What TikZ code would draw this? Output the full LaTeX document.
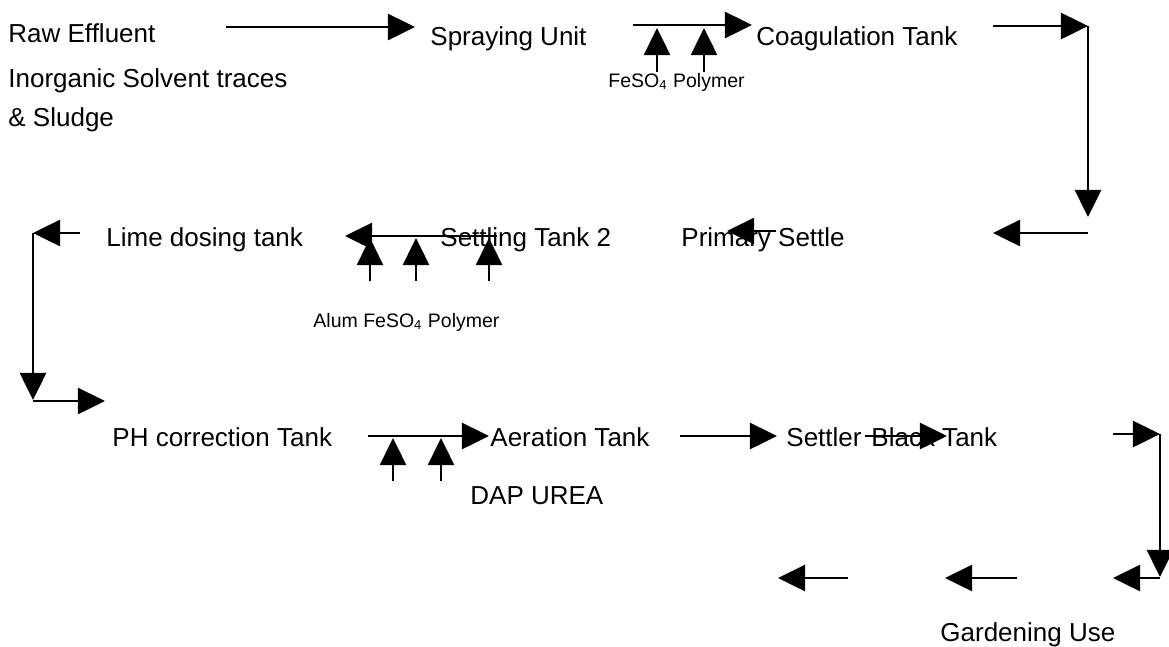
\documentclass[tikz,border=0pt]{standalone}
\usepackage{fontspec}
\setmainfont{Liberation Sans}
\usetikzlibrary{arrows.meta}

\begin{document}
\begin{tikzpicture}[
    x=0.4615pt, y=-0.4615pt,
    >={Triangle[length=12.5pt,width=12pt]},
    every node/.style={inner sep=0pt, anchor=base west},
    unit/.style={font=\fontsize{12}{14}\selectfont},
    dose/.style={font=\fontsize{9}{11}\selectfont},
    flow/.style={->, line width=1.3pt}
]
\useasboundingbox (0,0) rectangle (1169,646);

% stage names
\node[unit] (raw1) at (8,42) {Raw Effluent};
\node[unit] (raw2) at (8,87) {Inorganic Solvent traces};
\node[unit] (raw3) at (8,126) {\& Sludge};
\node[unit] (spray) at (430,45) {Spraying Unit};
\node[unit] (coag) at (756,45) {Coagulation Tank};
\node[unit] (prim) at (681,246) {Primary Settle};
\node[unit] (settle2) at (440,246) {Settling Tank 2};
\node[unit] (lime) at (106,246) {Lime dosing tank};
\node[unit] (ph) at (112,446) {PH correction Tank};
\node[unit] (aer) at (490,446) {Aeration Tank};
\node[unit] (settler) at (786,446) {Settler};
\node[unit] (black) at (871,446) {Black Tank};
\node[unit] (garden) at (940,641) {Gardening Use};

% chemicals
\node[dose] (chem1) at (608,87) {FeSO\textsubscript{4} Polymer};
\node[dose] (chem2) at (313,327) {Alum FeSO\textsubscript{4} Polymer};
\node[unit] (chem3) at (470,504) {DAP UREA};

% arrow ends
\coordinate (a1s) at (226,27);   \coordinate (a1e) at (415,27);
\coordinate (a2s) at (633,25);   \coordinate (a2e) at (752,25);
\coordinate (d1s) at (657,72);   \coordinate (d1e) at (657,28);
\coordinate (d2s) at (704,72);   \coordinate (d2e) at (704,28);
\coordinate (a3s) at (993,26);   \coordinate (a3c) at (1088,26);
\coordinate (a3e) at (1088,217);
\coordinate (a4s) at (1088,233); \coordinate (a4e) at (993,233);
\coordinate (a5s) at (776,231);  \coordinate (a5e) at (727,231);
\coordinate (a6s) at (497,236);  \coordinate (a6e) at (345,236);
\coordinate (d3s) at (370,281);  \coordinate (d3e) at (370,238);
\coordinate (d4s) at (416,281);  \coordinate (d4e) at (416,238);
\coordinate (d5s) at (489,281);  \coordinate (d5e) at (489,238);
\coordinate (a7s) at (80,233);   \coordinate (a7c) at (33,233);
\coordinate (a7e) at (33,400);
\coordinate (a8s) at (33,401);   \coordinate (a8e) at (105,401);
\coordinate (a9s) at (368,436);  \coordinate (a9e) at (489,436);
\coordinate (d6s) at (393,481);  \coordinate (d6e) at (393,438);
\coordinate (d7s) at (441,481);  \coordinate (d7e) at (441,438);
\coordinate (a10s) at (680,436); \coordinate (a10e) at (777,436);
\coordinate (a11s) at (865,436); \coordinate (a11e) at (947,436);
\coordinate (a12s) at (1113,434); \coordinate (a12c) at (1160,434);
\coordinate (a12e) at (1160,577);
\coordinate (a13s) at (1160,578); \coordinate (a13e) at (1113,578);
\coordinate (a14s) at (1017,578); \coordinate (a14e) at (945,578);
\coordinate (a15s) at (848,578);  \coordinate (a15e) at (778,578);

% flow arrows
\draw[flow] (a1s) -- (a1e);
\draw[flow] (a2s) -- (a2e);
\draw[flow] (d1s) -- (d1e);
\draw[flow] (d2s) -- (d2e);
\draw[flow] (a3s) -- (a3c);
\draw[flow] (a3c) -- (a3e);
\draw[flow] (a4s) -- (a4e);
\draw[flow] (a5s) -- (a5e);
\draw[flow] (a6s) -- (a6e);
\draw[flow] (d3s) -- (d3e);
\draw[flow] (d4s) -- (d4e);
\draw[flow] (d5s) -- (d5e);
\draw[flow] (a7s) -- (a7c);
\draw[flow] (a7c) -- (a7e);
\draw[flow] (a8s) -- (a8e);
\draw[flow] (a9s) -- (a9e);
\draw[flow] (d6s) -- (d6e);
\draw[flow] (d7s) -- (d7e);
\draw[flow] (a10s) -- (a10e);
\draw[flow] (a11s) -- (a11e);
\draw[flow] (a12s) -- (a12c);
\draw[flow] (a12c) -- (a12e);
\draw[flow] (a13s) -- (a13e);
\draw[flow] (a14s) -- (a14e);
\draw[flow] (a15s) -- (a15e);
\end{tikzpicture}
\end{document}
